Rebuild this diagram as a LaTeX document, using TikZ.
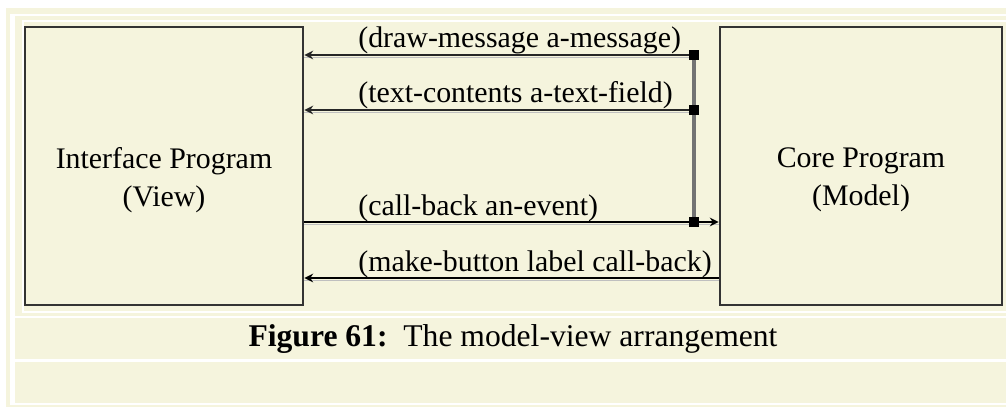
\documentclass[tikz,border=0pt]{standalone}
\usepackage{fontspec}
\setmainfont{Liberation Serif}
\usetikzlibrary{arrows.meta,positioning}
\definecolor{paper}{RGB}{245,244,221}

\begin{document}
\begin{tikzpicture}[
  x=0.02cm, y=-0.02cm,
  prog/.style={draw=black!80, line width=1.6pt, fill=paper, minimum height=5.56cm, inner sep=0pt},
  progtxt/.style={align=center, font=\fontsize{17}{21.5}\selectfont},
  msg/.style={line width=1.5pt, -{Stealth[length=5pt, width=5pt]},
    preaction={draw=black!25, arrows=-, transform canvas={yshift=-1.5pt}}},
  hub/.style={fill=black, minimum size=5.5pt, inner sep=0pt},
  lbl/.style={anchor=base west, inner sep=0pt, font=\fontsize{17}{20}\selectfont},
]
  \useasboundingbox (0,0) rectangle (1006,411);

  % table cells behind the figure
  \fill[paper] (6,8) rectangle (1006,407);
  \fill[white] (10,14) rectangle (1006,405);
  \fill[paper] (15,16) rectangle (1006,316);
  \fill[paper] (15,318) rectangle (1006,359);
  \fill[paper] (15,362) rectangle (1006,403);
  \draw[white, line width=1.3pt] (1010,21) -- (23,21) -- (23,312) -- (1010,312);

  \node[prog, minimum width=5.56cm] (view) at (164,166) {};
  \node[prog, minimum width=5.64cm] (core) at (861,166) {};
  \node[progtxt] (viewtxt) at (164,180) {Interface Program\\(View)};
  \node[progtxt] (coretxt) at (861,180) {Core Program\\(Model)};

  \coordinate (j1) at (694,55);
  \coordinate (j2) at (694,110);
  \coordinate (j3) at (694,222);

  \draw[black!55, line width=2pt] (j1) -- (j3);
  \draw[msg, black!85] (j1) -- (j1 -| view.east);
  \draw[msg, black!85] (j2) -- (j2 -| view.east);
  \draw[msg] (j3 -| view.east) -- (j3 -| core.west);
  \draw[msg] (core.west |- 0,278) -- (view.east |- 0,278);

  \node[hub] (h1) at (j1) {};
  \node[hub] (h2) at (j2) {};
  \node[hub] (h3) at (j3) {};

  \node[lbl] (l1) at (358,48) {(draw-message a-message)};
  \node[lbl] (l2) at (358,103) {(text-contents a-text-field)};
  \node[lbl] (l3) at (358,216) {(call-back an-event)};
  \node[lbl] (l4) at (358,272) {(make-button label call-back)};

  \node[font=\fontsize{18}{22}\selectfont] (cap) at (513,339) {\textbf{Figure 61:}\ \ The model-view arrangement};
\end{tikzpicture}
\end{document}
